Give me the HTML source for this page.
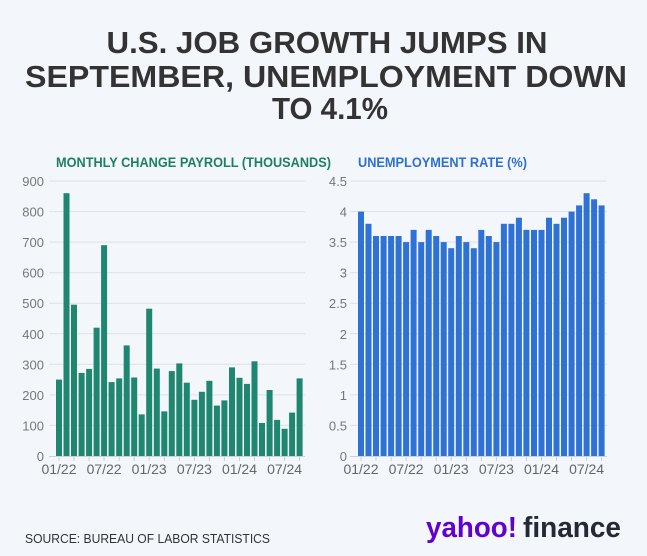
<!DOCTYPE html>
<html><head><meta charset="utf-8"><style>
html,body{margin:0;padding:0;background:#f3f6fa;}
svg{display:block;font-family:"Liberation Sans",sans-serif;}
</style></head><body>
<svg width="647" height="556" viewBox="0 0 647 556" xmlns="http://www.w3.org/2000/svg">
<rect width="647" height="556" fill="#f3f6fa"/>
<g font-weight="bold" fill="#333" font-size="31" text-anchor="middle">
<text x="327" y="53" textLength="441" lengthAdjust="spacingAndGlyphs">U.S. JOB GROWTH JUMPS IN</text>
<text x="326" y="87" textLength="602" lengthAdjust="spacingAndGlyphs">SEPTEMBER, UNEMPLOYMENT DOWN</text>
<text x="330" y="119" textLength="116" lengthAdjust="spacingAndGlyphs">TO 4.1%</text>
</g>
<text x="56" y="167" font-size="13.5" font-weight="bold" fill="#1e7f64" textLength="275" lengthAdjust="spacingAndGlyphs">MONTHLY CHANGE PAYROLL (THOUSANDS)</text>
<text x="358" y="167" font-size="13.5" font-weight="bold" fill="#2f6fd0" textLength="169" lengthAdjust="spacingAndGlyphs">UNEMPLOYMENT RATE (%)</text>
<g stroke="#dde1e6" stroke-width="1">
<path d="M49 425.4H305M49 394.9H305M49 364.3H305M49 333.8H305M49 303.2H305M49 272.7H305M49 242.1H305M49 211.6H305M49 181H305"/>
<path d="M350 425.4H607M350 394.9H607M350 364.3H607M350 333.8H607M350 303.2H607M350 272.7H607M350 242.1H607M350 211.6H607M350 181H607"/>
</g>
<g font-size="13" fill="#777" text-anchor="end">
<text x="44" y="461">0</text><text x="44" y="430.4">100</text><text x="44" y="399.9">200</text><text x="44" y="369.3">300</text><text x="44" y="338.8">400</text><text x="44" y="308.2">500</text><text x="44" y="277.7">600</text><text x="44" y="247.1">700</text><text x="44" y="216.6">800</text><text x="44" y="186">900</text>
<text x="347" y="461">0</text><text x="347" y="430.4">0.5</text><text x="347" y="399.9">1</text><text x="347" y="369.3">1.5</text><text x="347" y="338.8">2</text><text x="347" y="308.2">2.5</text><text x="347" y="277.7">3</text><text x="347" y="247.1">3.5</text><text x="347" y="216.6">4</text><text x="347" y="186">4.5</text>
</g>
<g fill="#1f8670">
<rect x="56" y="379.6" width="6" height="76.4"/><rect x="63.5" y="193.2" width="6" height="262.8"/><rect x="71" y="304.7" width="6" height="151.3"/><rect x="78.6" y="372.9" width="6" height="83.1"/><rect x="86.1" y="368.9" width="6" height="87.1"/><rect x="93.6" y="327.7" width="6" height="128.3"/><rect x="101.1" y="245.2" width="6" height="210.8"/><rect x="108.6" y="382.1" width="6" height="73.9"/><rect x="116.2" y="378.4" width="6" height="77.6"/><rect x="123.7" y="345.4" width="6" height="110.6"/><rect x="131.2" y="377.5" width="6" height="78.5"/><rect x="138.7" y="414.4" width="6" height="41.6"/><rect x="146.2" y="308.7" width="6" height="147.3"/><rect x="153.8" y="368.6" width="6" height="87.4"/><rect x="161.3" y="411.4" width="6" height="44.6"/><rect x="168.8" y="371.1" width="6" height="84.9"/><rect x="176.3" y="363.4" width="6" height="92.6"/><rect x="183.8" y="382.7" width="6" height="73.3"/><rect x="191.4" y="399.8" width="6" height="56.2"/><rect x="198.9" y="391.8" width="6" height="64.2"/><rect x="206.4" y="380.8" width="6" height="75.2"/><rect x="213.9" y="405.6" width="6" height="50.4"/><rect x="221.4" y="400.4" width="6" height="55.6"/><rect x="229" y="367.4" width="6" height="88.6"/><rect x="236.5" y="377.8" width="6" height="78.2"/><rect x="244" y="383.9" width="6" height="72.1"/><rect x="251.5" y="361.3" width="6" height="94.7"/><rect x="259" y="423" width="6" height="33"/><rect x="266.6" y="390" width="6" height="66"/><rect x="274.1" y="419.9" width="6" height="36.1"/><rect x="281.6" y="428.8" width="6" height="27.2"/><rect x="289.1" y="412.6" width="6" height="43.4"/><rect x="296.6" y="378.4" width="6" height="77.6"/>
</g>
<g fill="#2f72d6">
<rect x="358" y="211.6" width="6" height="244.4"/><rect x="365.5" y="223.8" width="6" height="232.2"/><rect x="373" y="236" width="6" height="220"/><rect x="380.6" y="236" width="6" height="220"/><rect x="388.1" y="236" width="6" height="220"/><rect x="395.6" y="236" width="6" height="220"/><rect x="403.1" y="242.1" width="6" height="213.9"/><rect x="410.6" y="229.9" width="6" height="226.1"/><rect x="418.2" y="242.1" width="6" height="213.9"/><rect x="425.7" y="229.9" width="6" height="226.1"/><rect x="433.2" y="236" width="6" height="220"/><rect x="440.7" y="242.1" width="6" height="213.9"/><rect x="448.2" y="248.2" width="6" height="207.8"/><rect x="455.8" y="236" width="6" height="220"/><rect x="463.3" y="242.1" width="6" height="213.9"/><rect x="470.8" y="248.2" width="6" height="207.8"/><rect x="478.3" y="229.9" width="6" height="226.1"/><rect x="485.8" y="236" width="6" height="220"/><rect x="493.4" y="242.1" width="6" height="213.9"/><rect x="500.9" y="223.8" width="6" height="232.2"/><rect x="508.4" y="223.8" width="6" height="232.2"/><rect x="515.9" y="217.7" width="6" height="238.3"/><rect x="523.4" y="229.9" width="6" height="226.1"/><rect x="531" y="229.9" width="6" height="226.1"/><rect x="538.5" y="229.9" width="6" height="226.1"/><rect x="546" y="217.7" width="6" height="238.3"/><rect x="553.5" y="223.8" width="6" height="232.2"/><rect x="561" y="217.7" width="6" height="238.3"/><rect x="568.6" y="211.6" width="6" height="244.4"/><rect x="576.1" y="205.4" width="6" height="250.6"/><rect x="583.6" y="193.2" width="6" height="262.8"/><rect x="591.1" y="199.3" width="6" height="256.7"/><rect x="598.6" y="205.4" width="6" height="250.6"/>
</g>
<g stroke="#ccd1d7" stroke-width="1">
<path d="M49 456.5H305M350 456.5H607"/>
<path d="M59 457v4M74 457v4M89.1 457v4M104.1 457v4M119.2 457v4M134.2 457v4M149.2 457v4M164.3 457v4M179.3 457v4M194.4 457v4M209.4 457v4M224.4 457v4M239.5 457v4M254.5 457v4M269.6 457v4M284.6 457v4M299.6 457v4"/>
<path d="M361 457v4M376 457v4M391.1 457v4M406.1 457v4M421.2 457v4M436.2 457v4M451.2 457v4M466.3 457v4M481.3 457v4M496.4 457v4M511.4 457v4M526.4 457v4M541.5 457v4M556.5 457v4M571.6 457v4M586.6 457v4M601.6 457v4"/>
</g>
<g font-size="14" fill="#666" text-anchor="middle">
<text x="59" y="474">01/22</text><text x="104.1" y="474">07/22</text><text x="149.2" y="474">01/23</text><text x="194.4" y="474">07/23</text><text x="239.5" y="474">01/24</text><text x="284.6" y="474">07/24</text>
<text x="361" y="474">01/22</text><text x="406.1" y="474">07/22</text><text x="451.2" y="474">01/23</text><text x="496.4" y="474">07/23</text><text x="541.5" y="474">01/24</text><text x="586.6" y="474">07/24</text>
</g>
<text x="25" y="543" font-size="13" fill="#333" textLength="245" lengthAdjust="spacingAndGlyphs">SOURCE: BUREAU OF LABOR STATISTICS</text>
<text x="426" y="537" font-size="29" font-weight="bold" fill="#6001d2" textLength="91" lengthAdjust="spacingAndGlyphs">yahoo!</text>
<text x="523" y="537" font-size="29" font-weight="bold" fill="#232a31" textLength="98" lengthAdjust="spacingAndGlyphs">finance</text>
</svg>
</body></html>
